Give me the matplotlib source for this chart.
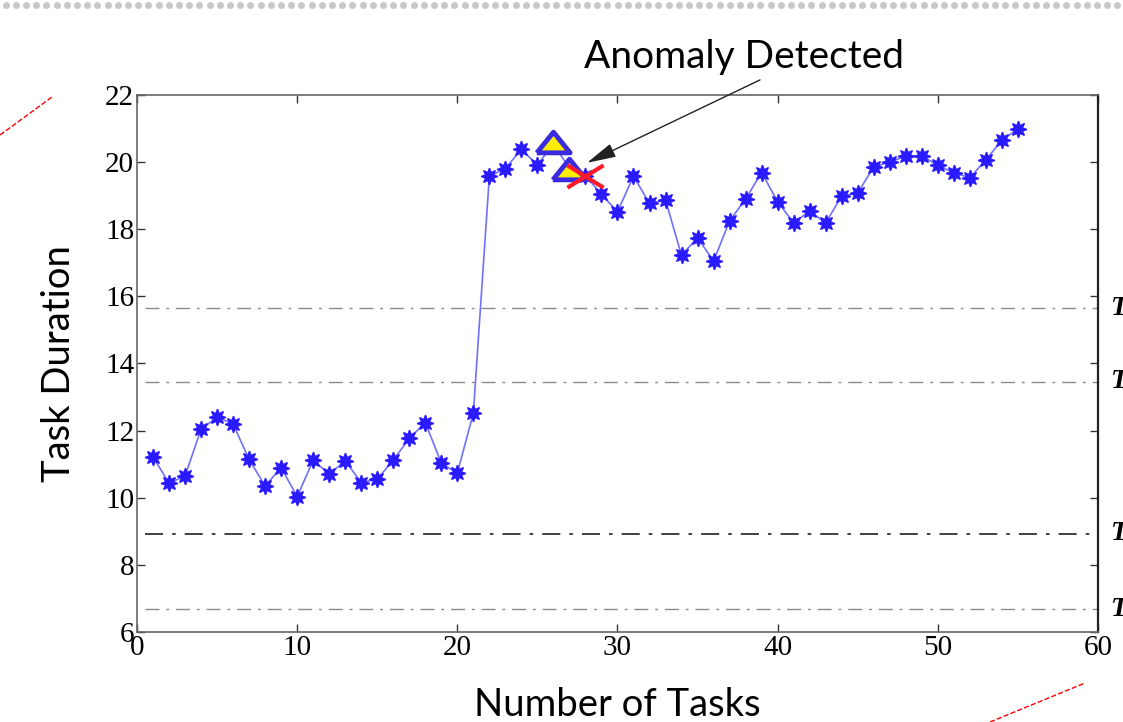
import numpy as np
import matplotlib
matplotlib.use("Agg")
import matplotlib.pyplot as plt
from matplotlib.lines import Line2D
from matplotlib.path import Path

# data
tasks = list(range(1, 56))
duration = [11.22, 10.43, 10.65, 12.04, 12.40, 12.20, 11.14, 10.35, 10.90, 10.03,
            11.12, 10.70, 11.10, 10.45, 10.55, 11.12, 11.77, 12.24, 11.03, 10.73,
            12.52, 19.58, 19.81, 20.38, 19.91, 20.55, 19.81, 19.60, 19.04, 18.52,
            19.58, 18.77, 18.87, 17.22, 17.75, 17.05, 18.25, 18.90, 19.69, 18.82,
            18.19, 18.54, 18.19, 18.99, 19.08, 19.86, 20.00, 20.18, 20.18, 19.91,
            19.68, 19.54, 20.06, 20.66, 20.98]
warn_x = [26, 27]
warn_y = [20.60, 19.81]
anomaly_x = [28]
anomaly_y = [19.58]
thresholds = [15.65, 13.45, 8.93, 6.68]
thr_colors = ["#8a8a8a", "#8a8a8a", "#333333", "#8a8a8a"]

# wide, flat markers like the stretched screenshot
tri = [(-1, -0.62), (1, -0.62), (0, 0.62), (-1, -0.62)]
cross = Path([(-1, -0.62), (1, 0.62), (-1, 0.62), (1, -0.62)],
             [Path.MOVETO, Path.LINETO, Path.MOVETO, Path.LINETO])

fig = plt.figure(figsize=(11.23, 7.22), dpi=100)
ax = fig.add_axes([0.122, 0.1247, 0.8557, 0.7437])

for t, c in zip(thresholds, thr_colors):
    ax.plot([0.5, 60], [t, t], color=c, lw=1.3 if c == "#333333" else 1.0,
            ls=(0, (10, 5, 2, 5)))

ax.plot(tasks, duration, color="#7070ff", lw=1.2, marker=(8, 1, 0), ms=12,
        mfc="#2a1aff", mec="#2a1aff", zorder=3)
ax.plot(warn_x, warn_y, ls="none", marker=tri, ms=24, mfc="#ffee00",
        mec="#3a2ae0", mew=3.5, zorder=4)
ax.plot(anomaly_x, anomaly_y, ls="none", marker=cross, ms=26, mfc="none",
        mec="#ff1a2a", mew=3, zorder=5)

ax.set_xlim(0, 60)
ax.set_ylim(6, 22)
ax.set_xticks(range(0, 61, 10))
ax.set_yticks(range(6, 23, 2))
ax.tick_params(direction="in", top=True, right=True, length=6, width=1,
               labelsize=21, colors="#333333", pad=2)
for lab in ax.get_xticklabels() + ax.get_yticklabels():
    lab.set_family("Liberation Serif")
    lab.set_color("black")
for s in ax.spines.values():
    s.set_color("#666666")
    s.set_linewidth(1.2)
ax.spines["right"].set_color("#222222")
ax.spines["right"].set_linewidth(1.6)

ax.set_xlabel("Number of Tasks", fontsize=27.5, family="Lato", labelpad=19)
ax.set_ylabel("Task Duration", fontsize=27.5, family="Lato", labelpad=20)

for t in thresholds:
    ax.text(60.8, t, "T", fontsize=20, family="Liberation Serif",
            style="italic", weight="bold", va="center", ha="left", clip_on=False)

ax.annotate("", xy=(28.1, 19.98), xytext=(38.9, 22.45),
            arrowprops=dict(arrowstyle="-|>,head_length=0.9,head_width=0.22",
                            color="#222222", lw=1.0, mutation_scale=20,
                            shrinkA=0, shrinkB=0),
            annotation_clip=False)
fig.text(744 / 1123, 1 - 57 / 722, "Anomaly Detected", fontsize=28,
         family="Lato", ha="center", va="center")

# screenshot decorations
fig.add_artist(Line2D(np.linspace(0.005, 0.995, 110), [0.993] * 110,
                      transform=fig.transFigure, ls="none", marker="o",
                      ms=4, color="#c8c8c8"))
fig.add_artist(Line2D([0, 52 / 1123], [1 - 135 / 722, 1 - 97 / 722],
                      transform=fig.transFigure, color="red", lw=1, ls="--"))
fig.add_artist(Line2D([990 / 1123, 1085 / 1123], [0, 1 - 683 / 722],
                      transform=fig.transFigure, color="red", lw=1, ls="--"))

fig.savefig("out.png", dpi=100)
